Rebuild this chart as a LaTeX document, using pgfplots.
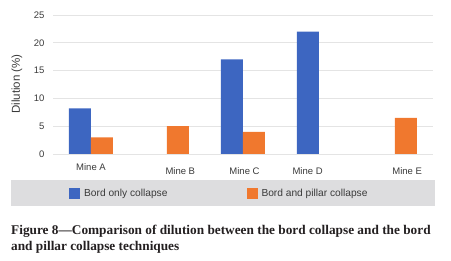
\documentclass[border=0pt]{standalone}
\usepackage{pgfplots}
\pgfplotsset{compat=1.18}
\usepackage{fontspec}
\setmainfont{Liberation Sans}
\newfontfamily\capfont{Liberation Serif}
\definecolor{barblue}{HTML}{3D66C1}
\definecolor{barorange}{HTML}{F0782E}
\definecolor{gridgray}{HTML}{E4E4E4}
\definecolor{legbg}{HTML}{DDDDDF}
\definecolor{txtgray}{HTML}{3A3A3A}
\definecolor{captxt}{HTML}{231F20}
\begin{document}
\begin{tikzpicture}[x=1pt,y=1pt]
\useasboundingbox (0,0) rectangle (451,261);
\fill[legbg] (11,55) rectangle (435,81);
\begin{axis}[
  at={(53pt,107pt)}, anchor=south west,
  scale only axis, width=380pt, height=139pt,
  xmin=-0.5, xmax=4.5, ymin=0, ymax=25,
  ybar=0pt, bar width=22pt,
  axis line style={draw=none},
  major tick length=0pt,
  ymajorgrids, grid style={gridgray, line width=0.9pt},
  ytick={0,5,10,15,20,25},
  xtick={0,1.175,2.02,2.85,4.16},
  xticklabels={\raisebox{4pt}[\height][\depth]{Mine A},Mine B,Mine C,Mine D,Mine E},
  x tick label style={font=\fontsize{9.5}{11}\selectfont, text=txtgray, yshift=-10pt},
  y tick label style={font=\fontsize{9.5}{11}\selectfont, text=txtgray, xshift=-5pt},
  /pgf/number format/assume math mode=true,
  ylabel={Dilution (\%)},
  ylabel style={font=\fontsize{11.5}{13}\selectfont, text=txtgray, at={(axis description cs:-0.095,0.504)}, anchor=center},
  legend columns=2,
  legend style={at={(axis description cs:0.042,-0.284)}, anchor=west, draw=none, fill=none, inner sep=0pt,
    font=\fontsize{10.2}{12}\selectfont, text=txtgray,
    /tikz/every even column/.append style={column sep=77pt}},
  legend image code/.code={\fill[#1,draw=none] (0pt,-5.5pt) rectangle (11pt,5.5pt);},
]
\addplot[fill=barblue, draw=none] coordinates {(0,8.2) (2,17) (3,22)};
\addplot[fill=barorange, draw=none] coordinates {(0,3) (1,5) (2,4) (4,6.5)};
\legend{\hspace{2pt}Bord only collapse, \hspace{2pt}Bord and pillar collapse}
\end{axis}
\node[anchor=base west, inner sep=0pt, text=captxt, font=\capfont\bfseries\fontsize{13.3}{16}\selectfont] at (11,26) {Figure 8—Comparison of dilution between the bord collapse and the bord};
\node[anchor=base west, inner sep=0pt, text=captxt, font=\capfont\bfseries\fontsize{13.3}{16}\selectfont] at (11,10) {and pillar collapse techniques};
\end{tikzpicture}
\end{document}
